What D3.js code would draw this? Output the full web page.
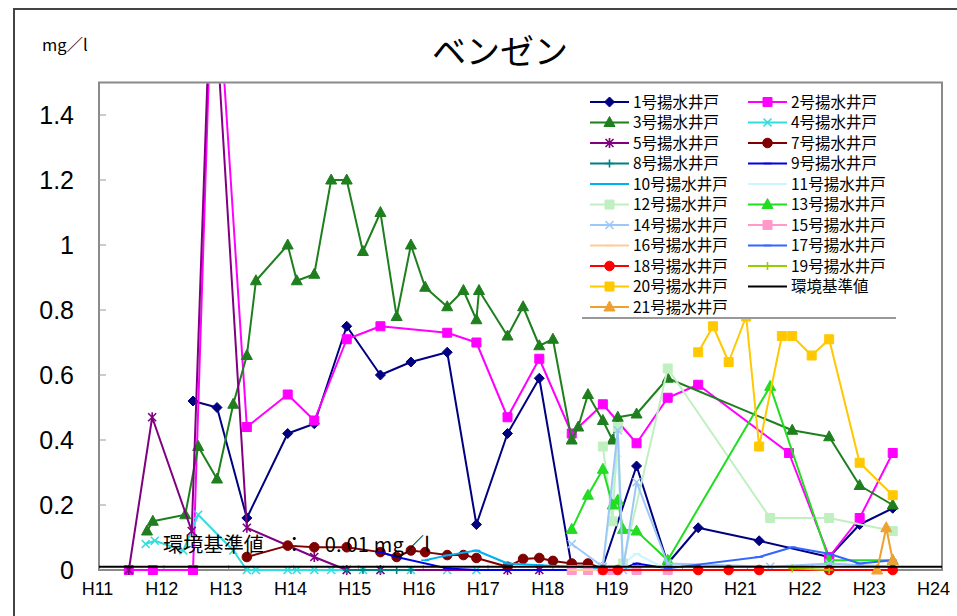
<!DOCTYPE html>
<html><head><meta charset="utf-8">
<script src="https://cdn.jsdelivr.net/npm/d3@7"></script>
<style>body{margin:0;background:#fff}svg{display:block}</style>
</head><body>
<svg id="c" width="957" height="616"></svg>
<script>
// ---- data (time = fractional Heisei year, value = mg/l) ----
const xLabels = ["H11","H12","H13","H14","H15","H16","H17","H18","H19","H20","H21","H22","H23","H24"];
const xYears = [11,12,13,14,15,16,17,18,19,20,21,22,23,24];
const yTicks = [0,0.2,0.4,0.6,0.8,1,1.2,1.4];
const standardValue = 0.01;

const w1 = [[12.45,0.52],[12.82,0.50],[13.28,0.16],[13.91,0.42],[14.32,0.45],[14.82,0.75],[15.34,0.60],[15.81,0.64],[16.37,0.67],[16.82,0.14],[17.30,0.42],[17.79,0.59],[18.29,0.01],[18.77,0.01],[19.29,0.32],[19.77,0.02],[20.24,0.13],[21.18,0.09],[22.26,0.04],[22.73,0.14],[23.24,0.19]];
const w2 = [[11.46,0],[11.83,0],[12.45,0],[12.77,2.0],[13.28,0.44],[13.91,0.54],[14.32,0.46],[14.82,0.71],[15.34,0.75],[16.37,0.73],[16.82,0.70],[17.30,0.47],[17.79,0.65],[18.29,0.42],[18.77,0.51],[19.29,0.39],[19.77,0.53],[20.24,0.57],[21.64,0.36],[22.26,0.04],[22.73,0.16],[23.24,0.36]];
const w3 = [[11.74,0.12],[11.83,0.15],[12.33,0.17],[12.53,0.38],[12.82,0.28],[13.07,0.51],[13.28,0.66],[13.42,0.89],[13.91,1.00],[14.05,0.89],[14.32,0.91],[14.58,1.20],[14.82,1.20],[15.07,0.98],[15.34,1.10],[15.59,0.78],[15.81,1.00],[16.03,0.87],[16.37,0.81],[16.62,0.86],[16.82,0.77],[16.86,0.86],[17.30,0.72],[17.54,0.81],[17.79,0.69],[18.00,0.71],[18.29,0.40],[18.39,0.44],[18.54,0.54],[18.77,0.46],[18.92,0.40],[19.00,0.47],[19.29,0.48],[19.77,0.59],[21.69,0.43],[22.26,0.41],[22.73,0.26],[23.24,0.20]];
const w4 = [[11.72,0.08],[11.86,0.09],[12.30,0.06],[12.53,0.17],[13.07,0.06],[13.28,0],[13.42,0],[13.91,0],[14.05,0],[14.32,0],[14.58,0],[14.82,0],[15.07,0],[15.34,0],[15.81,0],[16.37,0],[16.82,0]];
const w5 = [[11.46,0],[11.82,0.47],[12.43,0.12],[12.74,1.9],[13.28,0.13],[14.32,0.04],[14.82,0],[15.34,0],[17.30,0],[17.79,0]];
const w7 = [[13.28,0.04],[13.91,0.075],[14.32,0.07],[14.82,0.07],[15.34,0.055],[15.59,0.04],[15.81,0.06],[16.03,0.055],[16.37,0.046],[16.62,0.046],[16.82,0.037],[17.30,0.01],[17.54,0.034],[17.79,0.037],[18.00,0.028],[18.29,0.02],[18.54,0.02],[18.77,0.005]];
const w8 = [[14.82,0],[15.07,0],[15.34,0],[15.59,0],[15.81,0]];
const w9 = [[15.34,0.055],[15.59,0.04],[16.37,0.005],[16.82,0],[17.30,0],[17.79,0],[18.29,0],[18.77,0],[19.08,0.005],[19.29,0.02],[19.77,0.005]];
const w10 = [[16.03,0.03],[16.37,0.045],[16.82,0.06],[17.30,0.02],[17.79,0.015],[18.29,0.01],[18.77,0.005],[19.29,0]];
const w11 = [[18.77,0.02],[19.00,0.35],[19.08,0.02],[19.29,0.05],[19.77,0]];
const w12 = [[18.77,0.38],[18.92,0.15],[19.00,0.44],[19.08,0.02],[19.77,0.62],[21.35,0.16],[22.26,0.16],[23.24,0.12]];
const w13 = [[18.29,0.125],[18.54,0.23],[18.77,0.31],[18.92,0.20],[19.00,0.215],[19.08,0.125],[19.29,0.12],[19.77,0.03],[21.35,0.565],[22.26,0.03],[23.24,0.03]];
const w14 = [[18.29,0.08],[18.77,0.01],[19.00,0.43],[19.08,0],[19.29,0.27],[19.77,0.02],[21.35,0.01],[22.26,0.02],[23.24,0.01]];
const w15 = [[18.29,0],[18.54,0],[18.77,0],[18.92,0],[19.29,0],[19.77,0]];
const w16 = [[18.29,0],[18.77,0],[19.29,0],[19.77,0],[20.24,0]];
const w17 = [[19.77,0.005],[21.18,0.04],[21.69,0.07],[22.26,0.05],[22.73,0.02],[23.24,0.03]];
const w18 = [[18.77,0],[19.00,0],[20.24,0],[20.71,0],[21.18,0],[22.26,0],[23.24,0]];
const w19 = [[21.69,0.005],[22.26,0]];
const w20 = [[20.24,0.67],[20.47,0.75],[20.71,0.64],[20.98,0.78],[21.18,0.38],[21.53,0.72],[21.69,0.72],[21.99,0.66],[22.26,0.71],[22.73,0.33],[23.24,0.23]];
const w21 = [[23.00,0],[23.14,0.13],[23.24,0.03]];

const seriesNames = ["1号揚水井戸","2号揚水井戸","3号揚水井戸","4号揚水井戸","5号揚水井戸","7号揚水井戸","8号揚水井戸","9号揚水井戸","10号揚水井戸","11号揚水井戸","12号揚水井戸","13号揚水井戸","14号揚水井戸","15号揚水井戸","16号揚水井戸","17号揚水井戸","18号揚水井戸","19号揚水井戸","20号揚水井戸","21号揚水井戸"];
const seriesData = [w1,w2,w3,w4,w5,w7,w8,w9,w10,w11,w12,w13,w14,w15,w16,w17,w18,w19,w20,w21];
const seriesColors = ["#000080","#FF00FF","#1F7F1F","#33DDDD","#800080","#800000","#008080","#0000E0","#00B0F0","#CCF5FF","#C0F0C0","#22DD22","#9CC8F8","#FF99CC","#FFCC99","#3366FF","#FF0000","#99CC00","#FFC800","#F0A030"];
const seriesMarkers = ["diamond","square","triangle","x","asterisk","circle","plus","dash","dash","dash","square","triangle","x","square","dash","dash","circle","plus","square","triangle"];
const standardName = "環境基準値";

// ---- layout ----
const svg = d3.select("#c");
const L = 99, R = 942, T = 82.5, B = 570;
const x = d3.scaleLinear().domain([11,24]).range([L,R]);
const xl = d3.scaleLinear().domain([11,24]).range([97,933]);
const y = d3.scaleLinear().domain([0,1.5]).range([B,T]);
const jp = "'Noto Sans CJK JP','Noto Sans',sans-serif";
const lat = "'Liberation Sans',Arial,sans-serif";

svg.append("rect").attr("width",957).attr("height",616).attr("fill","#fff");
// outer frame
svg.append("path").attr("d","M14,616 V9 H957").attr("fill","none").attr("stroke","#444").attr("stroke-width",2);

// title + unit
svg.append("text").attr("x",500).attr("y",64).attr("text-anchor","middle")
  .attr("font-family",jp).attr("font-size",34).attr("fill","#000").text("ベンゼン");
svg.append("text").attr("x",42).attr("y",51).attr("font-family",jp).attr("font-size",16.5).attr("fill","#000").text("mg／l");

// plot border
svg.append("rect").attr("x",L).attr("y",T).attr("width",R-L).attr("height",B-T)
  .attr("fill","none").attr("stroke","#8a8a8a").attr("stroke-width",2);

// axes
const yAxis = d3.axisLeft(y).tickValues(yTicks).tickSize(0).tickPadding(0)
  .tickFormat(d => d3.format("~g")(d));
const gy = svg.append("g").attr("transform",`translate(${L-25},0)`).call(yAxis);
gy.select(".domain").remove();
gy.selectAll("text").attr("font-family",lat).attr("font-size",25).attr("fill","#000").attr("dy","0.32em");
svg.append("g").selectAll("line").data(yTicks.filter(d=>d>0)).join("line")
  .attr("x1",L).attr("x2",L+7).attr("y1",d=>y(d)).attr("y2",d=>y(d)).attr("stroke","#999").attr("stroke-width",1);

const xAxis = d3.axisBottom(xl).tickValues(xYears).tickSize(0).tickPadding(0)
  .tickFormat((d,i) => xLabels[i]);
const gx = svg.append("g").attr("transform",`translate(0,${B+12})`).call(xAxis);
gx.select(".domain").remove();
gx.selectAll("text").attr("font-family",lat).attr("font-size",18).attr("fill","#000").attr("dy","0.71em");
svg.append("g").selectAll("line").data(xYears.slice(1,-1)).join("line")
  .attr("x1",d=>x(d)).attr("x2",d=>x(d)).attr("y1",B).attr("y2",B-5).attr("stroke","#999");

// clip
svg.append("clipPath").attr("id","clip").append("rect").attr("x",L).attr("y",T+1).attr("width",R-L).attr("height",616-T);

function marker(type){
  switch(type){
    case "diamond": return "M0,-5L5,0L0,5L-5,0Z";
    case "square": return "M-4.5,-4.5H4.5V4.5H-4.5Z";
    case "triangle": return "M0,-6L5.5,4L-5.5,4Z";
    case "circle": return "M-4.8,0A4.8,4.8 0 1 0 4.8,0A4.8,4.8 0 1 0 -4.8,0Z";
    case "x": return "M-4,-4L4,4M-4,4L4,-4";
    case "asterisk": return "M-4,-4L4,4M-4,4L4,-4M0,-5V5";
    case "plus": return "M-4,0H4M0,-4V4";
    case "dash": return "M-4,0H4";
  }
}
const stroked = t => ["x","asterisk","plus","dash"].includes(t);

const line = d3.line().x(d=>x(d[0])).y(d=>y(d[1]));
const plot = svg.append("g");
seriesData.forEach((data,i)=>{
  const g = plot.append("g");
  g.append("path").attr("d",line(data)).attr("fill","none").attr("stroke",seriesColors[i])
    .attr("stroke-width",2).attr("stroke-linejoin","round").attr("clip-path","url(#clip)");
  g.selectAll("path.m").data(data.filter(d=>y(d[1])>=T)).join("path").attr("class","m")
    .attr("transform",d=>`translate(${x(d[0])},${y(d[1])})`)
    .attr("d",marker(seriesMarkers[i]))
    .attr("fill",stroked(seriesMarkers[i])?"none":seriesColors[i])
    .attr("stroke",seriesColors[i]).attr("stroke-width",stroked(seriesMarkers[i])?1.6:1);
});
// standard line
svg.append("line").attr("x1",L).attr("x2",R).attr("y1",y(standardValue)).attr("y2",y(standardValue))
  .attr("stroke","#000").attr("stroke-width",2);
svg.append("text").attr("x",163).attr("y",552).attr("font-family",jp).attr("font-size",20)
  .attr("fill","#000").attr("textLength",267).attr("lengthAdjust","spacing")
  .text("環境基準値　：　0. 01 mg／l");

// legend
const lg = svg.append("g");
lg.append("rect").attr("x",582).attr("y",84).attr("width",314).attr("height",234).attr("fill","#fff");
lg.append("line").attr("x1",582).attr("x2",896).attr("y1",318).attr("y2",318).attr("stroke","#999").attr("stroke-width",2);
const legendItems = seriesNames.map((n,i)=>({name:n,color:seriesColors[i],marker:seriesMarkers[i]}));
legendItems.splice(19,0,{name:standardName,color:"#000",marker:null});
legendItems.forEach((it,k)=>{
  const col = k%2, row = Math.floor(k/2);
  const x0 = col ? 748 : 590, yy = 102 + row*20.5;
  const g = lg.append("g").attr("transform",`translate(${x0},${yy})`);
  g.append("line").attr("x1",0).attr("x2",39).attr("stroke",it.color).attr("stroke-width",2);
  if(it.marker){
    g.append("path").attr("transform","translate(19.5,0)").attr("d",marker(it.marker))
      .attr("fill",stroked(it.marker)?"none":it.color).attr("stroke",it.color).attr("stroke-width",stroked(it.marker)?1.6:1);
  }
  g.append("text").attr("x",43).attr("y",0).attr("dy","0.36em").attr("font-family",jp)
    .attr("font-size",15.5).attr("fill","#000").text(it.name);
});
</script>
</body></html>
